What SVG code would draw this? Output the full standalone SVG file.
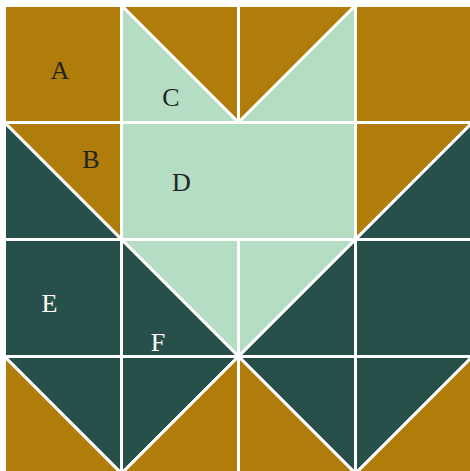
<svg xmlns="http://www.w3.org/2000/svg" width="470" height="471" viewBox="0 0 470 471">
<style>
.p{stroke:#ffffff;stroke-width:3;stroke-linejoin:round}
.br{fill:#B07C0A}
.mi{fill:#B4DDC4}
.dk{fill:#28504A}
.lbl{font-family:"Liberation Serif","DejaVu Serif",serif;font-size:26px;text-anchor:middle}
.dt{fill:#222222}
.wt{fill:#ffffff}
</style>
<rect x="0" y="0" width="470" height="471" fill="#ffffff"/>
<g id="pieces">
<g id="A"><rect class="p br" x="4.5" y="5.5" width="117" height="117"/></g>
<g id="C">
<polygon class="p br" points="121.5,5.5 238.5,5.5 238.5,122.5"/>
<polygon class="p mi" points="121.5,5.5 238.5,122.5 121.5,122.5"/>
</g>
<g id="r0c2">
<polygon class="p br" points="238.5,5.5 355.5,5.5 238.5,122.5"/>
<polygon class="p mi" points="355.5,5.5 355.5,122.5 238.5,122.5"/>
</g>
<g id="r0c3"><rect class="p br" x="355.5" y="5.5" width="117" height="117"/></g>
<g id="B">
<polygon class="p br" points="4.5,122.5 121.5,122.5 121.5,239.5"/>
<polygon class="p dk" points="4.5,122.5 121.5,239.5 4.5,239.5"/>
</g>
<g id="D"><rect class="p mi" x="121.5" y="122.5" width="234" height="117"/></g>
<g id="r1c3">
<polygon class="p br" points="355.5,122.5 472.5,122.5 355.5,239.5"/>
<polygon class="p dk" points="472.5,122.5 472.5,239.5 355.5,239.5"/>
</g>
<g id="E"><rect class="p dk" x="4.5" y="239.5" width="117" height="117"/></g>
<g id="F">
<polygon class="p mi" points="121.5,239.5 238.5,239.5 238.5,356.5"/>
<polygon class="p dk" points="121.5,239.5 238.5,356.5 121.5,356.5"/>
</g>
<g id="r2c2">
<polygon class="p mi" points="238.5,239.5 355.5,239.5 238.5,356.5"/>
<polygon class="p dk" points="355.5,239.5 355.5,356.5 238.5,356.5"/>
</g>
<g id="r2c3"><rect class="p dk" x="355.5" y="239.5" width="117" height="117"/></g>
<g id="r3c0">
<polygon class="p dk" points="4.5,356.5 121.5,356.5 121.5,473.5"/>
<polygon class="p br" points="4.5,356.5 121.5,473.5 4.5,473.5"/>
</g>
<g id="r3c1">
<polygon class="p dk" points="121.5,356.5 238.5,356.5 121.5,473.5"/>
<polygon class="p br" points="238.5,356.5 238.5,473.5 121.5,473.5"/>
</g>
<g id="r3c2">
<polygon class="p dk" points="238.5,356.5 355.5,356.5 355.5,473.5"/>
<polygon class="p br" points="238.5,356.5 355.5,473.5 238.5,473.5"/>
</g>
<g id="r3c3">
<polygon class="p dk" points="355.5,356.5 472.5,356.5 355.5,473.5"/>
<polygon class="p br" points="472.5,356.5 472.5,473.5 355.5,473.5"/>
</g>
</g>
<g id="labels">
<text class="lbl dt" x="60" y="79">A</text>
<text class="lbl dt" x="91" y="168">B</text>
<text class="lbl dt" x="171" y="106">C</text>
<text class="lbl dt" x="181.5" y="190.5">D</text>
<text class="lbl wt" x="49.5" y="312">E</text>
<text class="lbl wt" x="158" y="350.5">F</text>
</g>
<g id="connectors"></g>
</svg>
